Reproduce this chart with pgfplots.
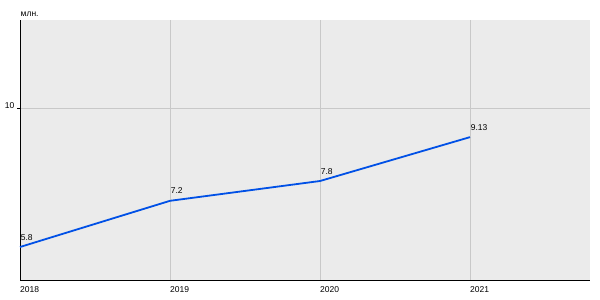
\documentclass[border=0pt]{standalone}
\usepackage{pgfplots}
\pgfplotsset{compat=1.18}
\usepackage{fontspec}
\setmainfont{Liberation Sans}
\definecolor{bgc}{HTML}{EBEBEB}
\definecolor{gridc}{HTML}{C8C8C8}
\definecolor{linec}{HTML}{0050E6}
\begin{document}
\begin{tikzpicture}[x=1pt,y=1pt]
\path[use as bounding box] (0,0) rectangle (600,300);
\begin{axis}[
  at={(20pt,20pt)}, anchor=south west,
  scale only axis, width=570pt, height=260pt,
  xmin=2018, xmax=2021.8, ymin=4.80, ymax=12.68,
  axis lines=left,
  axis line style={-, black, line width=1pt},
  axis background/.style={fill=bgc},
  xtick={2018,2019,2020,2021},
  xticklabels={2018,2019,2020,2021},
  ytick={10},
  yticklabels={10},
  grid=major,
  major grid style={gridc, line width=0.8pt},
  x tick style={draw=none},
  y tick style={black, line width=0.8pt},
  tick align=outside,
  major tick length=3pt,
  /pgf/number format/assume math mode=true,
  tick label style={font=\fontsize{8.5}{10}\selectfont, inner sep=0pt},
  xticklabel style={anchor=north west, yshift=-3pt},
  yticklabel style={anchor=base east, xshift=-2.5pt, yshift=-0.5pt},
  clip=false,
  nodes near coords,
  point meta=explicit symbolic,
  every node near coord/.style={font=\fontsize{8.5}{10}\selectfont, anchor=base west, inner sep=0pt, xshift=0pt, yshift=7pt, black},
]
\addplot[linec, line width=1.8pt, mark=none] coordinates {
  (2018,5.8) [5.8]
  (2019,7.2) [7.2]
  (2020,7.8) [7.8]
  (2021,9.13) [9.13]
};
\end{axis}
\node[anchor=base west, inner sep=0pt, font=\fontsize{8.5}{10}\selectfont] at (20.5,283.5) {млн.};
\end{tikzpicture}
\end{document}
